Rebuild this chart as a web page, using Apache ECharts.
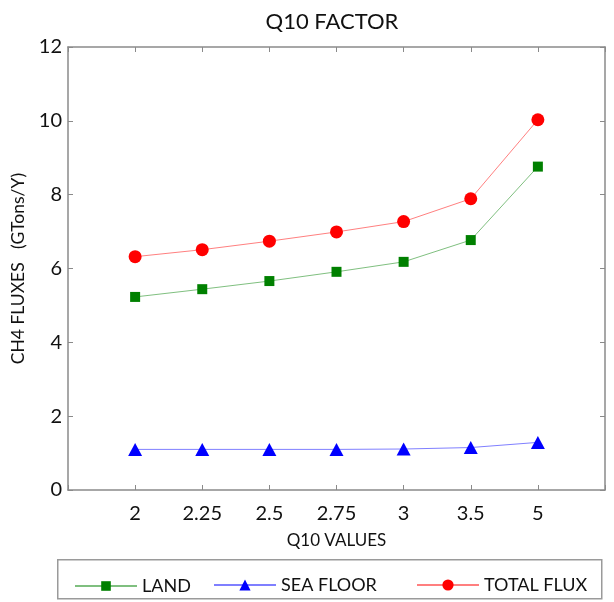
<!DOCTYPE html>
<html>
<head>
<meta charset="utf-8">
<script src="https://cdn.jsdelivr.net/npm/echarts@6/dist/echarts.min.js"></script>
<style>html,body{margin:0;padding:0;background:#fff}#c{width:614px;height:602px}</style>
</head>
<body>
<div id="c"></div>
<script>
const xLabels = ['2', '2.25', '2.5', '2.75', '3', '3.5', '5'];
const land = [5.23, 5.44, 5.66, 5.91, 6.18, 6.77, 8.76];
const seaFloor = [1.10, 1.10, 1.10, 1.10, 1.11, 1.15, 1.29];
const totalFlux = [6.32, 6.51, 6.74, 6.99, 7.27, 7.89, 10.03];
const yTicks = [0, 2, 4, 6, 8, 10, 12];

const FONT = 'Lato';
const frame = '#8a8a8a';
const toXY = arr => arr.map((v, i) => [i + 1, v]);

const chart = echarts.init(document.getElementById('c'), null, {renderer: 'canvas'});
const xCommon = {
  type: 'value', min: 0, max: xLabels.length + 1, interval: 1,
  axisLine: {show: true, onZero: false, lineStyle: {color: frame, width: 1.5}},
  axisTick: {show: true, inside: true, length: 5, lineStyle: {color: frame}},
  splitLine: {show: false}
};
const yCommon = {
  type: 'value', min: yTicks[0], max: yTicks[yTicks.length - 1], interval: 2,
  axisLine: {show: true, onZero: false, lineStyle: {color: frame, width: 1.5}},
  axisTick: {show: true, inside: true, length: 5, lineStyle: {color: frame}},
  splitLine: {show: false}
};
const legendText = {fontFamily: FONT, fontSize: 18, color: '#111'};
chart.setOption({
  animation: false,
  backgroundColor: '#fff',
  title: {
    text: 'Q10 FACTOR', left: 327, top: 6, textAlign: 'center',
    textStyle: {fontFamily: FONT, fontSize: 22, fontWeight: 'normal', color: '#111'}
  },
  grid: {left: 68, right: 9, top: 47, bottom: 112, containLabel: false},
  xAxis: [
    Object.assign({}, xCommon, {
      position: 'bottom',
      name: 'Q10 VALUES', nameLocation: 'middle', nameGap: 42,
      nameTextStyle: {fontFamily: FONT, fontSize: 17, color: '#111'},
      axisLabel: {
        fontFamily: FONT, fontSize: 20, color: '#111', margin: 14,
        formatter: v => (v >= 1 && v <= xLabels.length) ? xLabels[v - 1] : ''
      }
    }),
    Object.assign({}, xCommon, {position: 'top', axisLabel: {show: false}})
  ],
  yAxis: [
    Object.assign({}, yCommon, {
      position: 'left',
      name: 'CH4 FLUXES   (GTons/Y)', nameLocation: 'middle', nameGap: 41, nameRotate: 90,
      nameTextStyle: {fontFamily: FONT, fontSize: 17.5, color: '#111'},
      axisLabel: {fontFamily: FONT, fontSize: 20, color: '#111', margin: 6}
    }),
    Object.assign({}, yCommon, {position: 'right', axisLabel: {show: false}})
  ],
  legend: [
    {data: ['LAND'], left: 69, top: 572, itemWidth: 62, itemHeight: 12, itemGap: 0, textStyle: legendText},
    {data: ['SEA FLOOR'], left: 208, top: 571, itemWidth: 62, itemHeight: 14, itemGap: 0, textStyle: legendText},
    {data: ['TOTAL FLUX'], left: 411, top: 571, itemWidth: 62, itemHeight: 14, itemGap: 0, textStyle: legendText}
  ],
  graphic: [{
    type: 'rect', left: 57, top: 559, z: -1,
    shape: {width: 544, height: 39},
    style: {fill: '#fff', stroke: '#9a9a9a', lineWidth: 1.5}
  }],
  series: [
    {name: 'LAND', type: 'line', data: toXY(land), symbol: 'rect', symbolSize: 10,
     itemStyle: {color: '#008000'}, lineStyle: {color: 'rgba(0,128,0,0.5)', width: 1}},
    {name: 'SEA FLOOR', type: 'line', data: toXY(seaFloor), symbol: 'triangle', symbolSize: [14, 13],
     itemStyle: {color: '#0000ff'}, lineStyle: {color: 'rgba(0,0,255,0.5)', width: 1}},
    {name: 'TOTAL FLUX', type: 'line', data: toXY(totalFlux), symbol: 'circle', symbolSize: 13,
     itemStyle: {color: '#ff0000'}, lineStyle: {color: 'rgba(255,0,0,0.5)', width: 1}}
  ]
});
</script>
</body>
</html>
